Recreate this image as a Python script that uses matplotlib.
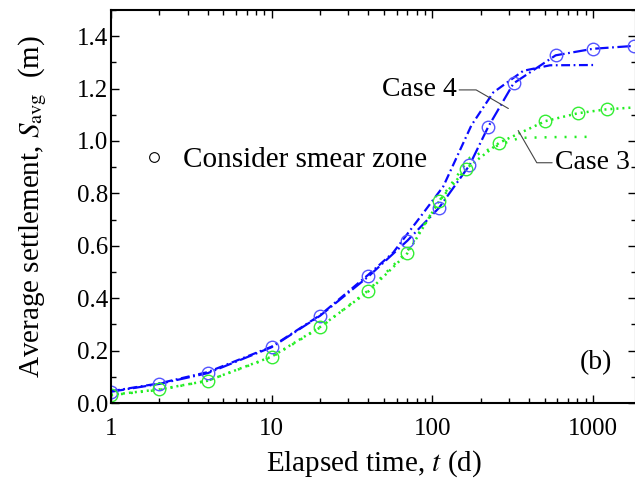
import matplotlib
matplotlib.use("Agg")
import matplotlib.pyplot as plt
from matplotlib.lines import Line2D
from matplotlib.ticker import MultipleLocator, FixedLocator, FixedFormatter, LogLocator, NullFormatter

plt.rcParams["font.family"] = ["Liberation Serif", "DejaVu Serif"]
plt.rcParams["mathtext.fontset"] = "stix"

# Case 4, smear zone considered (markers + dashed line)
t_c4_smear = [1, 2, 4, 10, 20, 40, 70, 110, 170, 223, 320, 585, 1000, 1800]
s_c4_smear = [0.043, 0.073, 0.114, 0.213, 0.333, 0.483, 0.62, 0.745, 0.907,
              1.055, 1.22, 1.327, 1.352, 1.363]

# Case 4, no smear zone
t_c4 = [1, 2, 4, 10, 20, 40, 57, 88, 117, 175, 239, 368, 540, 1000]
s_c4 = [0.045, 0.075, 0.118, 0.215, 0.335, 0.49, 0.574, 0.726, 0.827, 1.06,
        1.185, 1.268, 1.289, 1.29]

# Case 3, smear zone considered
t_c3_smear = [1, 2, 4, 10, 20, 40, 70, 110, 162, 260, 505, 805, 1216, 1800]
s_c3_smear = [0.031, 0.052, 0.085, 0.177, 0.29, 0.426, 0.572, 0.77, 0.894,
              0.993, 1.076, 1.106, 1.121, 1.128]

# Case 3, no smear zone
t_c3 = [1, 2, 4, 10, 20, 40, 70, 110, 171, 260, 351, 600, 1000]
s_c3 = [0.03, 0.05, 0.085, 0.175, 0.288, 0.43, 0.58, 0.77, 0.936, 0.985,
        1.012, 1.015, 1.016]

# marker points (smear zone results)
t_c4_pts = [1, 2, 4, 10, 20, 40, 70, 110, 170, 223, 320, 585, 1000, 1800]
s_c4_pts = s_c4_smear
t_c3_pts = [1, 2, 4, 10, 20, 40, 70, 110, 162, 260, 505, 805, 1216]
s_c3_pts = s_c3_smear[:-1]

x_ticks = [1, 10, 100, 1000]
x_tick_labels = ["1", "10", "100", "1000"]

blue = "#0a0aff"
green = "#22ee22"

fig = plt.figure(figsize=(6.35, 4.87), dpi=100)
ax = fig.add_axes([111 / 635, 84 / 487, 525 / 635, 393 / 487])

ax.plot(t_c4, s_c4, color=blue, lw=1.6, ls=(0, (4, 1.6, 0.8, 1.6)))
ax.plot(t_c4_smear, s_c4_smear, color=blue, lw=1.6, ls=(0, (6, 1.6, 0.8, 1.6)))
ax.plot(t_c3, s_c3, color=green, lw=1.8, ls=(0, (0.8, 3.2)))
ax.plot(t_c3_smear, s_c3_smear, color=green, lw=1.8, ls=(0, (0.8, 1.6)))

ax.plot(t_c4_pts, s_c4_pts, ls="none", marker="o", ms=9, mfc="none",
        mec="#5555ff", mew=1.0)
ax.plot(t_c3_pts, s_c3_pts, ls="none", marker="o", ms=9, mfc="none",
        mec="#33ee33", mew=1.0)

ax.set_xscale("log")
ax.set_xlim(1, 1850)
ax.set_ylim(0, 1.5)

ax.xaxis.set_major_locator(FixedLocator(x_ticks))
ax.xaxis.set_major_formatter(FixedFormatter(x_tick_labels))
ax.xaxis.set_minor_locator(LogLocator(base=10, subs=range(2, 10)))
ax.xaxis.set_minor_formatter(NullFormatter())
ax.yaxis.set_major_locator(MultipleLocator(0.2))
ax.yaxis.set_minor_locator(MultipleLocator(0.1))
ax.yaxis.set_major_formatter(matplotlib.ticker.FormatStrFormatter("%.1f"))

ax.tick_params(which="both", direction="in", top=True, right=True,
               labelsize=18, width=1.0)
ax.tick_params(which="major", length=6)
ax.tick_params(which="minor", length=3.5)
ax.tick_params(axis="x", which="major", pad=11)
ax.tick_params(axis="y", which="major", pad=2)
for sp in ax.spines.values():
    sp.set_linewidth(1.5)

ax.set_xlabel("Elapsed time, $t$ (d)", fontsize=21, labelpad=6)
ax.set_ylabel("Average settlement, $S_{\\rm avg}$  (m)", fontsize=21, labelpad=20)

# case labels with leader lines
ax.annotate("Case 4", xy=(297, 1.124), xytext=(141, 1.195), fontsize=20,
            ha="right", va="center",
            arrowprops=dict(arrowstyle="-", color="#444444", lw=0.8,
                            connectionstyle="angle,angleA=0,angleB=-30,rad=0",
                            shrinkA=0, shrinkB=0))
ax.annotate("Case 3", xy=(342, 1.04), xytext=(579, 0.917), fontsize=20,
            ha="left", va="center",
            arrowprops=dict(arrowstyle="-", color="#444444", lw=0.8,
                            connectionstyle="angle,angleA=0,angleB=-60,rad=0",
                            shrinkA=0, shrinkB=0))

ax.text(1043, 0.153, "(b)", fontsize=20, ha="center", va="center")

handle = Line2D([], [], ls="none", marker="o", ms=7, mfc="none", mec="k", mew=0.8)
ax.legend([handle], ["Consider smear zone"], loc="center left",
          bbox_to_anchor=(0.026, 0.618), frameon=False, fontsize=21,
          handlelength=1.0, handletextpad=0.5, borderpad=0)

fig.savefig("out.png", dpi=100)
